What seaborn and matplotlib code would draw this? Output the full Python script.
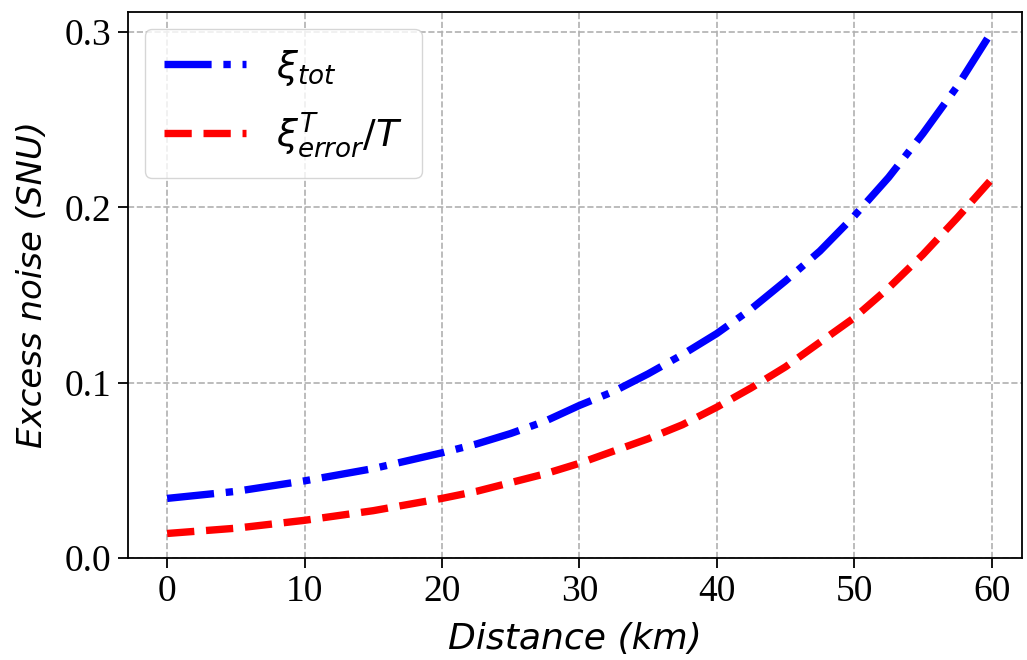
import numpy as np
import pandas as pd
import seaborn as sns
import matplotlib.pyplot as plt

# values
distance = [0, 5, 10, 15, 20, 22.5, 25, 27.5, 30, 32.5, 35, 37.5, 40,
            42.5, 45, 47.5, 50, 52.5, 55, 57.5, 60]
xi_tot = [0.034, 0.038, 0.044, 0.051, 0.060, 0.065, 0.071, 0.078, 0.087, 0.095,
          0.105, 0.116, 0.128, 0.142, 0.158, 0.175, 0.195, 0.217, 0.242, 0.269, 0.300]
xi_err = [0.014, 0.017, 0.0215, 0.027, 0.034, 0.038, 0.043, 0.048, 0.054, 0.061,
          0.068, 0.076, 0.086, 0.097, 0.109, 0.123, 0.137, 0.154, 0.173, 0.194, 0.216]
xticks = [0, 10, 20, 30, 40, 50, 60]
yticks = [0.0, 0.1, 0.2, 0.3]

sns.set_style("ticks")
plt.rcParams['font.family'] = ['DejaVu Sans']
plt.rcParams['mathtext.fontset'] = 'dejavusans'
plt.rcParams['text.color'] = 'black'
plt.rcParams['axes.labelcolor'] = 'black'
plt.rcParams['xtick.color'] = 'black'
plt.rcParams['ytick.color'] = 'black'

df = pd.DataFrame({"d": distance, "tot": xi_tot, "err": xi_err})

fig = plt.figure(figsize=(10.27, 6.6), dpi=100)
ax = fig.add_axes([0.1246, 0.1545, 0.8704, 0.8275])

sns.lineplot(data=df, x="d", y="tot", ax=ax, color="blue", lw=5.3,
             linestyle="-.", label=r"$\xi_{tot}$")
sns.lineplot(data=df, x="d", y="err", ax=ax, color="red", lw=5.3,
             linestyle="--", label=r"$\xi^{T}_{error}/T$")

ax.set_xlim(-2.85, 62.2)
ax.set_ylim(0, 0.3114)
ax.set_xticks(xticks)
ax.set_yticks(yticks)
ax.set_xticklabels([str(t) for t in xticks], family="Liberation Serif", fontsize=27)
ax.set_yticklabels([f"{t:.1f}" for t in yticks], family="Liberation Serif", fontsize=27)
ax.tick_params(axis="both", length=7, width=1.3, color="black", pad=5)
ax.grid(True, linestyle="--", color="#b0b0b0", lw=1.2)
for s in ax.spines.values():
    s.set_color("black")
    s.set_linewidth(1.3)

ax.set_xlabel("Distance (km)", fontsize=26, style="italic", labelpad=9)
ax.set_ylabel("Excess noise (SNU)", fontsize=24.5, style="italic", labelpad=11)

leg = ax.legend(loc="upper left", fontsize=27, handlelength=2.2, frameon=True,
                borderaxespad=0.45, labelspacing=0.6, borderpad=0.5)
leg.get_frame().set_edgecolor("#cccccc")

fig.savefig("out.png", dpi=100)
